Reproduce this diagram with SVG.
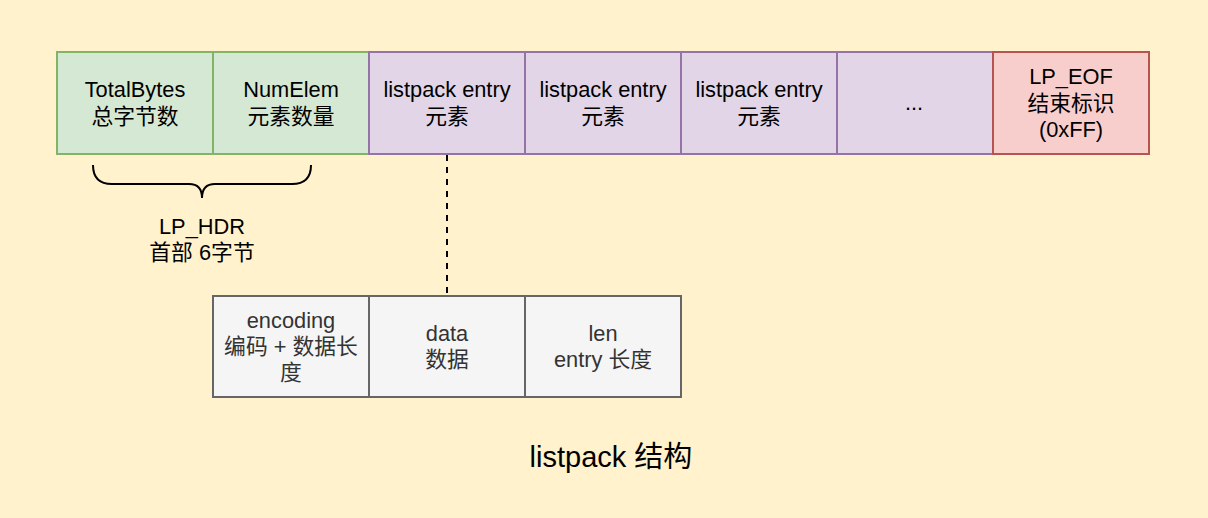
<svg xmlns="http://www.w3.org/2000/svg" width="1208" height="518" viewBox="0 0 1208 518">
<style>
text{font-family:"Liberation Sans","Noto Sans CJK SC",sans-serif;font-size:21.8px;text-anchor:middle;fill:#000}
.g{fill:#d5e8d4;stroke:#82b366;stroke-width:2}
.p{fill:#e1d5e7;stroke:#9673a6;stroke-width:2}
.r{fill:#f8cecc;stroke:#b85450;stroke-width:2}
.s{fill:#f5f5f5;stroke:#666666;stroke-width:2}
.s2{fill:#333333}
</style>
<rect width="1208" height="518" fill="#fff2cc"/>
<g id="connectors">
<path d="M447 155V295" stroke="#000" stroke-width="2" stroke-dasharray="6 6" fill="none"/>
<path d="M93 165Q93 184 112 184H189Q202 184 202 198Q202 184 215 184H292Q311 184 311 165" stroke="#000" stroke-width="2" fill="none"/>
</g>
<g id="totalbytes"><rect class="g" x="57" y="52" width="156" height="102"/><text x="135" y="97">TotalBytes</text><text x="135" y="124">总字节数</text></g>
<g id="numelem"><rect class="g" x="213" y="52" width="156" height="102"/><text x="291" y="97">NumElem</text><text x="291" y="124">元素数量</text></g>
<g id="entry1"><rect class="p" x="369" y="52" width="156" height="102"/><text x="447" y="97">listpack entry</text><text x="447" y="124">元素</text></g>
<g id="entry2"><rect class="p" x="525" y="52" width="156" height="102"/><text x="603" y="97">listpack entry</text><text x="603" y="124">元素</text></g>
<g id="entry3"><rect class="p" x="681" y="52" width="156" height="102"/><text x="759" y="97">listpack entry</text><text x="759" y="124">元素</text></g>
<g id="more"><rect class="p" x="837" y="52" width="156" height="102"/><text x="914" y="110">...</text></g>
<g id="eof"><rect class="r" x="993" y="52" width="156" height="102"/><text x="1071" y="84">LP_EOF</text><text x="1071" y="111">结束标识</text><text x="1071" y="137">(0xFF)</text></g>
<g id="hdr-label"><text x="202" y="234">LP_HDR</text><text x="202" y="260">首部 6字节</text></g>
<g id="encoding"><rect class="s" x="213" y="296" width="156" height="101"/><text class="s2" x="291" y="328">encoding</text><text class="s2" x="291" y="354">编码 + 数据长</text><text class="s2" x="291" y="380">度</text></g>
<g id="data"><rect class="s" x="369" y="296" width="156" height="101"/><text class="s2" x="447" y="341">data</text><text class="s2" x="447" y="367">数据</text></g>
<g id="len"><rect class="s" x="525" y="296" width="156" height="101"/><text class="s2" x="603" y="341">len</text><text class="s2" x="603" y="367">entry 长度</text></g>
<g id="title"><text x="611" y="467" style="font-size:29px">listpack 结构</text></g>
</svg>
